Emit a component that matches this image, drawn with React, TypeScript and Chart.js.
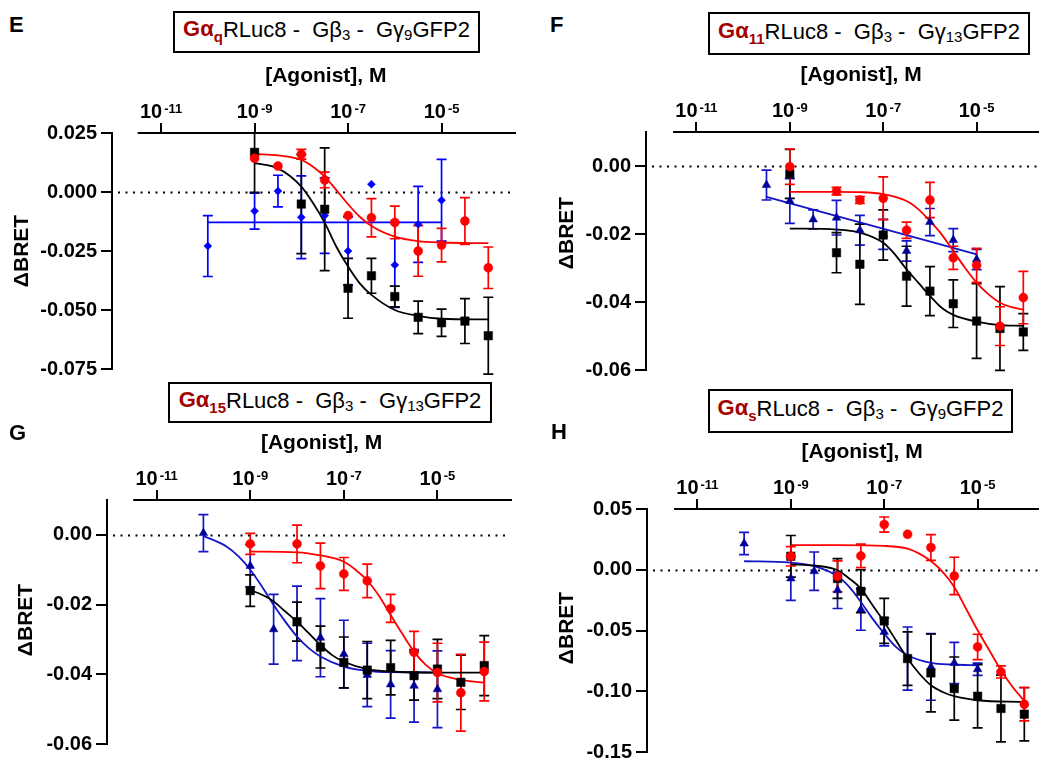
import React, { useEffect, useRef } from "react";
import { Chart, registerables } from "chart.js";

Chart.register(...registerables);

const FONT = "Arial, 'Liberation Sans', Helvetica, sans-serif";

// ---------------- Panel E (Gαq) ----------------
const E_BLACK_X = [-9, -8, -7.5, -7, -6.5, -6, -5.5, -5, -4.5, -4];
const E_BLACK_Y = [0.0168, -0.0051, -0.0073, -0.0408, -0.0355, -0.0443, -0.0531, -0.0554, -0.0547, -0.0609];
const E_BLACK_ERR = [0.017, 0.021, 0.026, 0.0127, 0.0074, 0.0044, 0.0069, 0.0058, 0.0095, 0.0163];
const E_BLACK_FIT_X = [-9, -8.5, -8, -7.75, -7.5, -7.25, -7, -6.75, -6.5, -6, -5.5, -5, -4];
const E_BLACK_FIT_Y = [0.0122, 0.01, 0.0023, -0.0047, -0.013, -0.0232, -0.0316, -0.0387, -0.0436, -0.05, -0.0525, -0.0537, -0.054];

const E_RED_X = [-9, -8.5, -8, -7.5, -7, -6.5, -6, -5.5, -5, -4.5, -4];
const E_RED_Y = [0.0143, 0.011, 0.016, 0.0051, -0.01, -0.0109, -0.0129, -0.025, -0.0225, -0.0123, -0.0321];
const E_RED_ERR = [0, 0, 0.0021, 0.0033, 0, 0.0081, 0.0069, 0.0107, 0.0071, 0.0099, 0.0088];
const E_RED_FIT_X = [-9, -8.5, -8, -7.75, -7.5, -7.25, -7, -6.75, -6.5, -6, -5.5, -5, -4];
const E_RED_FIT_Y = [0.0161, 0.0155, 0.0136, 0.0107, 0.0065, 0.0008, -0.0052, -0.0105, -0.0144, -0.0189, -0.0208, -0.0214, -0.0217];

const E_BLUE_X = [-10, -9, -8.5, -8, -7.5, -7, -6.5, -6, -5.5, -5];
const E_BLUE_Y = [-0.0229, -0.0081, 0.0004, -0.0107, -0.01, -0.025, 0.0033, -0.0309, -0.0137, -0.0035];
const E_BLUE_ERR = [0.0129, 0.0076, 0.0067, 0.0175, 0.016, 0.0145, 0, 0.018, 0.0161, 0.0173];
const E_BLUE_FIT_X = [-10, -5];
const E_BLUE_FIT_Y = [-0.0129, -0.0129];

// ---------------- Panel F (Gα11) ----------------
const F_BLACK_X = [-9, -8, -7.5, -7, -6.5, -6, -5.5, -5, -4.5, -4];
const F_BLACK_Y = [-0.0023, -0.0255, -0.0289, -0.0203, -0.0324, -0.0368, -0.0405, -0.0456, -0.0478, -0.0488];
const F_BLACK_ERR = [0.0072, 0.0059, 0.0118, 0.0074, 0.0088, 0.0072, 0.007, 0.011, 0.0123, 0.0054];
const F_BLACK_FIT_X = [-9, -8, -7.5, -7, -6.75, -6.5, -6.25, -6, -5.75, -5.5, -5, -4.5, -4];
const F_BLACK_FIT_Y = [-0.0184, -0.0187, -0.0196, -0.0226, -0.026, -0.0304, -0.0343, -0.0382, -0.0417, -0.0438, -0.0458, -0.0468, -0.047];

const F_RED_X = [-9, -8, -7.5, -7, -6.5, -6, -5.5, -5, -4.5, -4];
const F_RED_Y = [-0.0002, -0.0074, -0.01, -0.0095, -0.0189, -0.01, -0.027, -0.0292, -0.0471, -0.0387];
const F_RED_ERR = [0.0052, 0.0011, 0.001, 0.0063, 0.0024, 0.0052, 0.0034, 0.005, 0.0057, 0.0077];
const F_RED_FIT_X = [-9, -8, -7.5, -7, -6.5, -6.25, -6, -5.75, -5.5, -5.25, -5, -4.75, -4.5, -4.25, -4];
const F_RED_FIT_Y = [-0.0076, -0.0076, -0.0077, -0.0083, -0.0103, -0.0127, -0.0162, -0.0201, -0.025, -0.0299, -0.0343, -0.0377, -0.0402, -0.0415, -0.0422];

const F_BLUE_X = [-9.5, -9, -8.5, -8, -7.5, -7, -6.5, -6, -5.5, -5];
const F_BLUE_Y = [-0.0056, -0.0103, -0.0157, -0.0152, -0.0189, -0.0201, -0.025, -0.0165, -0.0218, -0.0275];
const F_BLUE_ERR = [0.0044, 0.0066, 0.0028, 0.0051, 0.0044, 0.0044, 0.003, 0.004, 0.0034, 0.003];
const F_BLUE_FIT_X = [-9.5, -7.5, -5];
const F_BLUE_FIT_Y = [-0.0091, -0.0166, -0.026];

// ---------------- Panel G (Gα15) ----------------
const G_BLACK_X = [-9, -8, -7.5, -7, -6.5, -6, -5.5, -5, -4.5, -4];
const G_BLACK_Y = [-0.016, -0.0249, -0.0322, -0.0366, -0.0388, -0.0381, -0.0404, -0.0385, -0.0423, -0.0375];
const G_BLACK_ERR = [0.0045, 0.0056, 0.006, 0.0073, 0.0082, 0.0078, 0.007, 0.0085, 0.0078, 0.0086];
const G_BLACK_FIT_X = [-9, -8.75, -8.5, -8.25, -8, -7.75, -7.5, -7.25, -7, -6.5, -6, -5, -4];
const G_BLACK_FIT_Y = [-0.0158, -0.0172, -0.0191, -0.022, -0.0249, -0.0282, -0.0316, -0.0345, -0.0364, -0.0385, -0.0392, -0.0395, -0.0395];

const G_RED_X = [-9, -8, -7.5, -7, -6.5, -6, -5.5, -5, -4.5, -4];
const G_RED_Y = [-0.0026, -0.0026, -0.0089, -0.0112, -0.0132, -0.0211, -0.0337, -0.0395, -0.0453, -0.0392];
const G_RED_ERR = [0.003, 0.0054, 0.0065, 0.0047, 0.0048, 0.004, 0.006, 0.0084, 0.011, 0.0084];
const G_RED_FIT_X = [-9, -8, -7.5, -7, -6.75, -6.5, -6.25, -6, -5.75, -5.5, -5.25, -5, -4.5, -4];
const G_RED_FIT_Y = [-0.0048, -0.005, -0.0059, -0.0077, -0.01, -0.0131, -0.0175, -0.023, -0.0284, -0.0335, -0.0373, -0.0397, -0.0416, -0.0424];

const G_BLUE_X = [-10, -9, -8.5, -8, -7.5, -7, -6.5, -6, -5.5, -5];
const G_BLUE_Y = [0.0005, -0.0089, -0.0271, -0.0254, -0.0295, -0.0342, -0.0402, -0.0429, -0.0433, -0.0443];
const G_BLUE_ERR = [0.0053, 0.006, 0.01, 0.0107, 0.0112, 0.0097, 0.0091, 0.0097, 0.0104, 0.011];
const G_BLUE_FIT_X = [-10, -9.5, -9.25, -9, -8.75, -8.5, -8.25, -8, -7.75, -7.5, -7, -6.5, -6, -5];
const G_BLUE_FIT_Y = [-0.0003, -0.0034, -0.0062, -0.01, -0.0148, -0.0201, -0.0249, -0.0292, -0.0325, -0.0349, -0.0378, -0.039, -0.0394, -0.0395];

// ---------------- Panel H (Gαs) ----------------
const H_BLACK_X = [-9, -8, -7.5, -7, -6.5, -6, -5.5, -5, -4.5, -4];
const H_BLACK_Y = [0.0111, -0.0072, -0.0177, -0.0421, -0.0731, -0.0849, -0.0978, -0.1041, -0.1142, -0.1189];
const H_BLACK_ERR = [0.0171, 0.0164, 0.0177, 0.0185, 0.022, 0.032, 0.026, 0.026, 0.0275, 0.022];
const H_BLACK_FIT_X = [-9, -8.5, -8, -7.75, -7.5, -7.25, -7, -6.75, -6.5, -6.25, -6, -5.75, -5.5, -5, -4];
const H_BLACK_FIT_Y = [0.0045, 0.0035, -0.0004, -0.0072, -0.0155, -0.0292, -0.043, -0.058, -0.0731, -0.0854, -0.0951, -0.1006, -0.1041, -0.1074, -0.1088];

const H_RED_X = [-9, -8, -7.5, -7, -6.5, -6, -5.5, -5, -4.5, -4];
const H_RED_Y = [0.0111, -0.0054, 0.0114, 0.0372, 0.0292, 0.0183, -0.0051, -0.0635, -0.0841, -0.1107];
const H_RED_ERR = [0.008, 0.0127, 0.0097, 0.0062, 0, 0.0106, 0.0154, 0.0104, 0.005, 0.0137];
const H_RED_FIT_X = [-9, -8, -7, -6.5, -6.25, -6, -5.75, -5.5, -5.25, -5, -4.75, -4.5, -4.25, -4];
const H_RED_FIT_Y = [0.0202, 0.0202, 0.0196, 0.0174, 0.0133, 0.0072, -0.0018, -0.0142, -0.0319, -0.0498, -0.0663, -0.0827, -0.0965, -0.108];

const H_BLUE_X = [-10, -9, -8.5, -8, -7.5, -7, -6.5, -6, -5.5, -5];
const H_BLUE_Y = [0.0216, -0.0072, -0.0012, -0.0169, -0.0328, -0.0512, -0.0731, -0.08, -0.0767, -0.0819];
const H_BLUE_ERR = [0.0092, 0.018, 0.0158, 0.015, 0.017, 0.0115, 0.026, 0.0274, 0.017, 0.005];
const H_BLUE_FIT_X = [-10, -9, -8.5, -8, -7.75, -7.5, -7.25, -7, -6.75, -6.5, -6, -5.5, -5];
const H_BLUE_FIT_Y = [0.007, 0.0059, 0.0029, -0.0054, -0.0141, -0.0265, -0.0402, -0.0525, -0.0635, -0.0704, -0.0767, -0.078, -0.0786];

// ---------------- Axes ----------------
const X_TICKS = [-11, -9, -7, -5];
const X_AXIS_START = -11.5;
const X_TITLE = "[Agonist], M";
const Y_TITLE = "\u0394BRET";
const E_Y_TICKS = [0.025, 0, -0.025, -0.05, -0.075];
const F_Y_TICKS = [0, -0.02, -0.04, -0.06];
const G_Y_TICKS = [0, -0.02, -0.04, -0.06];
const H_Y_TICKS = [0.05, 0, -0.05, -0.1, -0.15];

// ---------------- Styles ----------------
const BLACK = "#000000";
const RED = "#FF0000";
const BLUE_E = "#0000FF";
const NAVY = "#000099";
const NAVY_LINE = "#1414C8";
const DARK_RED = "#A30000";
const PX_PER_DECADE = 46.75;

type Series = {
  x: number[]; y: number[]; err: number[];
  fitX: number[]; fitY: number[];
  fill: string; line: string; shape: string; radius: number;
};

const mk = (x: number[], y: number[], err: number[], fitX: number[], fitY: number[], fill: string, line: string, shape: string, radius: number): Series =>
  ({ x, y, err, fitX, fitY, fill, line, shape, radius });

type PanelCfg = {
  letter: string; letterX: number; letterY: number;
  box: { left: number; top: number; width: number; height: number };
  sub: string; gb: string; gg: string;
  left: number; top: number; axisX: number; axisY: number; bottom: number;
  xMin: number; xMax: number; yMin: number; yMax: number; yTicks: number[]; dec: number;
  yTitleX: number; yTitleY: number;
  series: Series[];
};

const PANELS: PanelCfg[] = [
  {
    letter: "E", letterX: 9, letterY: 25,
    box: { left: 173, top: 11, width: 307, height: 42 }, sub: "q", gb: "3", gg: "9",
    left: 0, top: 50, axisX: 112, axisY: 133, bottom: 369,
    xMin: -12.05, xMax: -3.45, yMin: -0.075, yMax: 0.025, yTicks: E_Y_TICKS, dec: 3,
    yTitleX: 22, yTitleY: 251,
    series: [
      mk(E_BLUE_X, E_BLUE_Y, E_BLUE_ERR, E_BLUE_FIT_X, E_BLUE_FIT_Y, BLUE_E, BLUE_E, "rectRot", 4),
      mk(E_BLACK_X, E_BLACK_Y, E_BLACK_ERR, E_BLACK_FIT_X, E_BLACK_FIT_Y, BLACK, BLACK, "rect", 6),
      mk(E_RED_X, E_RED_Y, E_RED_ERR, E_RED_FIT_X, E_RED_FIT_Y, RED, RED, "circle", 4.5),
    ],
  },
  {
    letter: "F", letterX: 550, letterY: 25,
    box: { left: 708, top: 12, width: 322, height: 43 }, sub: "11", gb: "3", gg: "13",
    left: 520, top: 50, axisX: 646, axisY: 132, bottom: 370,
    xMin: -12.08, xMax: -3.45, yMin: -0.06, yMax: 0.01, yTicks: F_Y_TICKS, dec: 2,
    yTitleX: 567, yTitleY: 233,
    series: [
      mk(F_BLUE_X, F_BLUE_Y, F_BLUE_ERR, F_BLUE_FIT_X, F_BLUE_FIT_Y, NAVY, NAVY_LINE, "triangle", 5),
      mk(F_BLACK_X, F_BLACK_Y, F_BLACK_ERR, F_BLACK_FIT_X, F_BLACK_FIT_Y, BLACK, BLACK, "rect", 6),
      mk(F_RED_X, F_RED_Y, F_RED_ERR, F_RED_FIT_X, F_RED_FIT_Y, RED, RED, "circle", 4.5),
    ],
  },
  {
    letter: "G", letterX: 9, letterY: 433,
    box: { left: 168, top: 382, width: 324, height: 41 }, sub: "15", gb: "3", gg: "13",
    left: 0, top: 420, axisX: 107, axisY: 500, bottom: 744,
    xMin: -12.06, xMax: -3.45, yMin: -0.06, yMax: 0.01, yTicks: G_Y_TICKS, dec: 2,
    yTitleX: 26, yTitleY: 620,
    series: [
      mk(G_BLUE_X, G_BLUE_Y, G_BLUE_ERR, G_BLUE_FIT_X, G_BLUE_FIT_Y, NAVY, NAVY_LINE, "triangle", 5),
      mk(G_BLACK_X, G_BLACK_Y, G_BLACK_ERR, G_BLACK_FIT_X, G_BLACK_FIT_Y, BLACK, BLACK, "rect", 6),
      mk(G_RED_X, G_RED_Y, G_RED_ERR, G_RED_FIT_X, G_RED_FIT_Y, RED, RED, "circle", 4.5),
    ],
  },
  {
    letter: "H", letterX: 551, letterY: 432,
    box: { left: 708, top: 389, width: 305, height: 44 }, sub: "s", gb: "3", gg: "9",
    left: 520, top: 420, axisX: 647, axisY: 509, bottom: 752,
    xMin: -12.08, xMax: -3.45, yMin: -0.15, yMax: 0.05, yTicks: H_Y_TICKS, dec: 2,
    yTitleX: 567, yTitleY: 628,
    series: [
      mk(H_BLUE_X, H_BLUE_Y, H_BLUE_ERR, H_BLUE_FIT_X, H_BLUE_FIT_Y, NAVY, NAVY_LINE, "triangle", 5),
      mk(H_BLACK_X, H_BLACK_Y, H_BLACK_ERR, H_BLACK_FIT_X, H_BLACK_FIT_Y, BLACK, BLACK, "rect", 6),
      mk(H_RED_X, H_RED_Y, H_RED_ERR, H_RED_FIT_X, H_RED_FIT_Y, RED, RED, "circle", 4.5),
    ],
  },
];

const PAD_BOTTOM = 20;
const PAD_RIGHT = 12;

function makeDecor(p: PanelCfg) {
  return {
    id: "decor" + p.letter,
    beforeDatasetsDraw(chart: any) {
      const { ctx, chartArea, scales } = chart;
      const xs = scales.x, ys = scales.y;
      ctx.save();
      ctx.strokeStyle = "#000";
      ctx.lineWidth = 2;
      ctx.setLineDash([2, 5.5]);
      const y0 = Math.round(ys.getPixelForValue(0)) + 0.5;
      ctx.beginPath();
      ctx.moveTo(chartArea.left + 6, y0);
      ctx.lineTo(chartArea.right, y0);
      ctx.stroke();
      ctx.restore();
      chart.data.datasets.forEach((ds: any) => {
        if (!ds.errors) return;
        ctx.save();
        ctx.strokeStyle = ds.errColor;
        ctx.lineWidth = 1.7;
        ds.data.forEach((pt: any, j: number) => {
          const e = ds.errors[j];
          if (!e) return;
          const px = xs.getPixelForValue(pt.x);
          const hiV = pt.y + e, loV = pt.y - e;
          const hiClip = hiV > ys.max;
          const top = ys.getPixelForValue(Math.min(hiV, ys.max));
          const bot = ys.getPixelForValue(loV);
          ctx.beginPath();
          ctx.moveTo(px, top);
          ctx.lineTo(px, bot);
          if (!hiClip) {
            ctx.moveTo(px - 5, top);
            ctx.lineTo(px + 5, top);
          }
          ctx.moveTo(px - 5, bot);
          ctx.lineTo(px + 5, bot);
          ctx.stroke();
        });
        ctx.restore();
      });
    },
    afterDraw(chart: any) {
      const { ctx, chartArea, scales } = chart;
      const xs = scales.x;
      const axisY = chartArea.top;
      const xStart = xs.getPixelForValue(X_AXIS_START);
      ctx.save();
      ctx.strokeStyle = "#000";
      ctx.lineWidth = 2;
      ctx.beginPath();
      ctx.moveTo(xStart, axisY);
      ctx.lineTo(chartArea.right + 2, axisY);
      ctx.stroke();
      ctx.fillStyle = "#000";
      ctx.textBaseline = "alphabetic";
      ctx.textAlign = "left";
      X_TICKS.forEach((v) => {
        ctx.font = `bold 20px ${FONT}`;
        const base = "10";
        const w1 = ctx.measureText(base).width;
        ctx.font = `bold 13px ${FONT}`;
        const exp = String(v);
        const w2 = ctx.measureText(exp).width;
        const total = w1 + 2 + w2;
        const cx = xs.getPixelForValue(v);
        const l = cx - total / 2;
        ctx.font = `bold 20px ${FONT}`;
        ctx.fillText(base, l, axisY - 15);
        ctx.font = `bold 13px ${FONT}`;
        ctx.fillText(exp, l + w1 + 2, axisY - 20);
      });
      ctx.font = `bold 21px ${FONT}`;
      ctx.textAlign = "center";
      ctx.textBaseline = "middle";
      ctx.fillText(X_TITLE, (xStart + chartArea.right) / 2, axisY - 57);
      ctx.translate(p.yTitleX - p.left, p.yTitleY - p.top);
      ctx.rotate(-Math.PI / 2);
      ctx.fillText(Y_TITLE, 0, 0);
      ctx.restore();
    },
  };
}

function Panel({ p }: { p: PanelCfg }) {
  const ref = useRef<HTMLCanvasElement>(null);
  const yW = p.axisX - p.left;
  const xH = p.axisY - p.top;
  const cw = Math.round(yW + (p.xMax - p.xMin) * PX_PER_DECADE + PAD_RIGHT);
  const ch = p.bottom - p.top + PAD_BOTTOM;

  useEffect(() => {
    const datasets: any[] = [];
    p.series.forEach((s, i) => {
      datasets.push({
        data: s.fitX.map((x, k) => ({ x, y: s.fitY[k] })),
        showLine: true,
        borderColor: s.line,
        borderWidth: 1.8,
        pointRadius: 0,
        fill: false,
        cubicInterpolationMode: "monotone",
        clip: false,
        order: 10 - i,
      });
      datasets.push({
        data: s.x.map((x, k) => ({ x, y: s.y[k] })),
        showLine: false,
        pointStyle: s.shape,
        pointRadius: s.radius,
        backgroundColor: s.fill,
        borderColor: s.fill,
        borderWidth: 0.5,
        errors: s.err,
        errColor: s.line,
        clip: false,
        order: 5 - i,
      });
    });

    const chart = new Chart(ref.current as HTMLCanvasElement, {
      type: "scatter",
      data: { datasets },
      options: {
        responsive: false,
        animation: false,
        events: [],
        layout: { padding: { left: 0, top: 0, right: PAD_RIGHT, bottom: PAD_BOTTOM } },
        plugins: { legend: { display: false }, tooltip: { enabled: false } },
        scales: {
          x: {
            type: "linear",
            position: "top",
            min: p.xMin,
            max: p.xMax,
            afterBuildTicks: (s: any) => { s.ticks = X_TICKS.map((v) => ({ value: v })); },
            afterFit: (s: any) => { s.height = xH; },
            ticks: { display: false },
            grid: { drawOnChartArea: false, drawTicks: true, tickLength: 10, color: "#000", lineWidth: 2 },
            border: { display: false },
          },
          y: {
            type: "linear",
            position: "left",
            min: p.yMin,
            max: p.yMax,
            afterBuildTicks: (s: any) => { s.ticks = p.yTicks.map((v) => ({ value: v })); },
            afterFit: (s: any) => { s.width = yW; },
            ticks: {
              color: "#000",
              padding: 4,
              font: { family: FONT, size: 20, weight: "bold" },
              callback: (v: any) => Number(v).toFixed(p.dec),
            },
            grid: { drawOnChartArea: false, drawTicks: true, tickLength: 11, color: "#000", lineWidth: 2 },
            border: { display: true, color: "#000", width: 2 },
          },
        },
      } as any,
      plugins: [makeDecor(p)],
    });
    return () => chart.destroy();
  }, []);

  const subBold: React.CSSProperties = { fontSize: 15, fontWeight: "bold", position: "relative", top: 6, verticalAlign: "baseline" };
  const subReg: React.CSSProperties = { fontSize: 15, position: "relative", top: 5, verticalAlign: "baseline" };

  return (
    <>
      <canvas
        ref={ref}
        width={cw}
        height={ch}
        style={{ position: "absolute", left: p.left, top: p.top, width: cw, height: ch, display: "block" }}
      />
      <div
        style={{
          position: "absolute", left: p.letterX, top: p.letterY - 13, height: 26, lineHeight: "26px",
          fontFamily: FONT, fontWeight: "bold", fontSize: 22, color: "#000",
        }}
      >
        {p.letter}
      </div>
      <div
        style={{
          position: "absolute", left: p.box.left, top: p.box.top, width: p.box.width, height: p.box.height,
          boxSizing: "border-box", border: "2px solid #000", display: "flex", alignItems: "center",
          justifyContent: "center", fontFamily: FONT, fontSize: 22, color: "#000", whiteSpace: "pre",
          background: "#fff", lineHeight: "24px", paddingBottom: 4,
        }}
      >
        <span style={{ color: DARK_RED, fontWeight: "bold" }}>
          Gα<span style={subBold}>{p.sub}</span>
        </span>
        <span>RLuc8 -  Gβ</span>
        <span style={subReg}>{p.gb}</span>
        <span> -  Gγ</span>
        <span style={subReg}>{p.gg}</span>
        <span>GFP2</span>
      </div>
    </>
  );
}

export default function App() {
  return (
    <div
      style={{
        position: "absolute", left: 0, top: 0, width: 1039, height: 762, overflow: "hidden",
        background: "#fff",
      }}
    >
      {PANELS.map((p) => (
        <Panel key={p.letter} p={p} />
      ))}
    </div>
  );
}
